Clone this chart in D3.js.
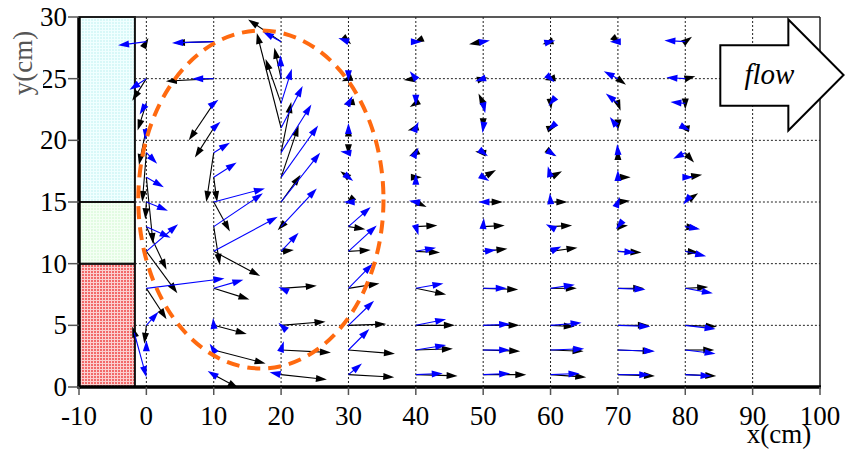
<!DOCTYPE html>
<html><head><meta charset="utf-8">
<script src="https://cdn.jsdelivr.net/npm/d3@7"></script>
<style>
body{margin:0;background:#fff}
svg{display:block}
text{font-family:"Liberation Serif","DejaVu Serif",serif}
</style>
</head><body>
<script>
// Measurement stations
const columns = [0, 10, 20, 30, 40, 50, 60, 70, 80];
const rows = [1, 3, 5, 8, 11, 13, 15, 17, 19, 21, 23, 25, 28];

// Vector displacement [dx, dy] in axis units, one list per column (rows bottom to top)
const blackVectors = [
  [[0,0],[0,0],[-0.3,-1.5],[3.0,-2.5],[4.6,-3.4],[3.0,-3.5],[-0.15,-1.4],[1.0,-5.4],[-0.6,-4.0],[-1.1,-3.0],[-1.3,-2.2],[-2.1,-1.8],[0.3,0.3]],
  [[3.7,-1.1],[7.7,-1.1],[4.9,-0.7],[5.3,-0.9],[6.9,-2.0],[0.9,-3.1],[2.4,-2.4],[0.5,-2.0],[-1.1,-4.0],[-2.8,-2.4],[-3.7,-3.0],[-7.1,-0.2],[-5.9,-0.1]],
  [[6.8,-0.4],[7.4,-0.2],[6.6,0.3],[5.3,0.2],[1.9,0.1],[-0.5,-0.3],[2.9,2.2],[2.6,4.2],[1.5,4.1],[-3.6,7.7],[-2.3,3.6],[-1.0,2.5],[-4.9,1.8]],
  [[6.8,-0.2],[6.9,-0.3],[5.6,0.1],[4.6,0.4],[3.3,0.1],[2.5,-0.2],[-0.4,-0.2],[-1.2,0.5],[0,-0.2],[0,0.2],[-0.7,-0.1],[-1.0,-0.2],[0.4,-0.2]],
  [[6.2,-0.1],[5.5,0.1],[5.8,0],[4.5,-0.5],[3.6,-0.1],[3.2,0.1],[1.6,-0.4],[0.9,0],[-1.0,-0.3],[-1.2,-0.2],[-0.9,-0.3],[-1.8,-0.1],[-0.4,-0.1]],
  [[6.4,0],[5.5,-0.1],[5.4,0],[5.2,-0.1],[3.6,0.2],[3.2,0.1],[2.9,0],[1.9,0.6],[-1.2,0.1],[0,-0.1],[-0.7,0.8],[0.7,0.1],[-2.1,-0.2]],
  [[5.3,-0.2],[4.9,-0.1],[3.6,-0.1],[3.9,0],[4.0,0.3],[3.2,0.1],[2.5,0],[1.7,0.5],[0.7,-0.3],[1.0,0.2],[0.1,-0.5],[-0.9,-0.1],[-1.2,-0.2]],
  [[5.5,-0.1],[5.3,-0.1],[4.6,0],[3.9,0],[3.5,-0.1],[1.5,0.1],[1.8,0.1],[1.9,0],[0,0.3],[0,-0.2],[0.4,-0.6],[1.2,-0.5],[0.4,-0.2]],
  [[4.6,-0.1],[4.3,0],[4.7,-0.1],[3.4,0.1],[2.0,-0.1],[1.8,-0.1],[1.9,0.7],[2.5,0.2],[1.3,-0.8],[-1.0,0.1],[0,-0.5],[1.5,0.2],[1.0,0.4]]
];
const blueVectors = [
  [[0,0],[0,0.8],[1.8,1.1],[11.6,0.8],[4.7,2.2],[3.6,-0.9],[3.2,-0.7],[2.6,-0.8],[1.6,-0.9],[-0.2,-1.0],[-1.0,-0.9],[-2.5,-0.9],[-4.2,-0.3]],
  [[-0.9,0.3],[-0.6,0.5],[-0.1,0.6],[4.4,0.7],[9.5,2.8],[7.3,2.7],[7.6,1.1],[3.4,1.2],[2.4,0.8],[1.0,0.5],[0.7,0.3],[-3.2,0],[-6.2,-0.1]],
  [[-1.7,0.2],[0.4,0.7],[-0.4,0.2],[-0.4,0.1],[2.6,1.5],[5.3,3.1],[5.8,4.0],[5.5,4.2],[4.5,3.9],[3.2,3.4],[1.6,2.8],[-0.1,1.9],[-2.7,0.8]],
  [[2.0,0.9],[3.1,1.7],[3.8,2.0],[3.6,2.0],[4.2,2.1],[3.3,1.6],[-0.7,0],[0.7,-0.3],[-1.2,0.1],[0,0.4],[0.6,0.6],[0,-0.2],[-1.5,0.3]],
  [[4.0,0.1],[4.5,0.4],[4.5,0.5],[4.1,0.4],[3.0,0.3],[0.4,-0.7],[-1.0,0.1],[0,0.3],[0.4,0.4],[0.4,0.5],[0,-0.2],[-0.9,0.6],[0.9,0]],
  [[4.0,0.1],[4.0,0],[4.0,0.1],[3.5,0],[1.9,0.1],[0.1,0.7],[-0.7,0],[0.9,-0.3],[0.7,-0.3],[-0.1,-0.4],[0.3,-0.8],[-1.2,-0.2],[1.0,0.1]],
  [[4.3,0.1],[5.0,0.1],[4.6,0.2],[3.6,0.3],[1.6,0.4],[-0.7,0.2],[-0.1,0.7],[-0.4,0.9],[0.9,-0.3],[-0.4,-0.2],[-0.3,-0.2],[0.6,-0.3],[0.7,0.1]],
  [[4.8,0],[5.5,-0.1],[4.8,-0.1],[4.1,-0.1],[2.6,-0.1],[-0.3,-0.2],[0.3,0.4],[0,0.6],[-0.1,0.7],[-1.2,0.9],[-1.8,0.8],[-2.1,0.6],[-1.2,0]],
  [[3.9,-0.1],[4.5,-0.3],[4.5,-0.3],[4.1,-0.4],[3.1,-0.4],[2.2,-0.2],[-0.3,-0.2],[1.2,0],[-1.8,-0.5],[0.7,-0.2],[-2.2,0.1],[-2.8,0.1],[-3.1,0.1]]
];

// Extra station on the wall face, [x, y], with its black and blue vectors
const wallStation = [-1.8, 4.4];
const wallBlack = [-0.3, 0.5];
const wallBlue = [1.8, -3.6];

const xTicks = d3.range(-10, 101, 10);
const yTicks = d3.range(0, 31, 5);
const xGrid = d3.range(0, 91, 10);
const yGrid = d3.range(5, 26, 5);

// Wall layers: [bottom, top] heights in cm, and the wall face position
const wallLayers = [[0, 10], [10, 15], [15, 30]];
const wallFace = -1.7;

// Recirculation zone outline: centre and radii in axis units
const eddyCentre = [17, 15.2];
const eddyRadii = [18.2, 13.7];

// Flow direction sign outline (axis units)
const flowSign = [[85.2,27.7],[95.3,27.7],[95.3,29.8],[103.5,25.3],[95.3,20.8],[95.3,22.8],[85.2,22.8]];

const W = 848, H = 454;
const x = d3.scaleLinear().domain([-10, 100]).range([79, 820]);
const y = d3.scaleLinear().domain([0, 30]).range([387, 17]);

const svg = d3.select("body").append("svg").attr("width", W).attr("height", H);
const defs = svg.append("defs");

function meshPattern(id, bg, ink, step) {
  const p = defs.append("pattern").attr("id", id).attr("patternUnits", "userSpaceOnUse")
    .attr("width", step).attr("height", step);
  p.append("rect").attr("width", step).attr("height", step).attr("fill", bg);
  p.append("rect").attr("width", step).attr("height", 1).attr("fill", ink);
  p.append("rect").attr("width", 1).attr("height", step).attr("fill", ink);
}
meshPattern("meshRed", "#f26a6a", "#fbd0d0", 3);
meshPattern("meshGreen", "#e2fbe2", "#f4fff4", 3);
meshPattern("meshCyan", "#d8f8f8", "#f0ffff", 3);
const layerFill = ["url(#meshRed)", "url(#meshGreen)", "url(#meshCyan)"];

// Wall layers
svg.append("g").selectAll("rect").data(wallLayers).join("rect")
  .attr("x", x(-10)).attr("width", x(wallFace) - x(-10))
  .attr("y", d => y(d[1])).attr("height", d => y(d[0]) - y(d[1]))
  .attr("fill", (d, i) => layerFill[i])
  .attr("stroke", "#111").attr("stroke-width", 2);

// Dotted grid
const grid = svg.append("g").attr("stroke", "#222").attr("stroke-width", 1).attr("stroke-dasharray", "2,2");
grid.selectAll(".gx").data(xGrid).join("line")
  .attr("x1", d => x(d)).attr("x2", d => x(d)).attr("y1", y(0)).attr("y2", y(30));
grid.selectAll(".gy").data(yGrid).join("line")
  .attr("x1", x(wallFace)).attr("x2", x(100)).attr("y1", d => y(d)).attr("y2", d => y(d));

// Arrow drawing: fixed-size head at the tip, shaft from the station
const headLen = 11, headHalf = 3.5;
function arrow(g, x0d, y0d, u, v, color) {
  const x0 = x(x0d), y0 = y(y0d), x1 = x(x0d + u), y1 = y(y0d + v);
  const dx = x1 - x0, dy = y1 - y0, len = Math.hypot(dx, dy);
  if (len < 1e-6) return;
  const ux = dx / len, uy = dy / len;
  if (len > headLen * 0.7) {
    g.append("line").attr("x1", x0).attr("y1", y0)
      .attr("x2", x1 - ux * headLen * 0.7).attr("y2", y1 - uy * headLen * 0.7)
      .attr("stroke", color).attr("stroke-width", 1.1);
  }
  const bx = x1 - ux * headLen, by = y1 - uy * headLen;
  g.append("polygon")
    .attr("points", [[x1, y1], [bx - uy * headHalf, by + ux * headHalf], [bx + uy * headHalf, by - ux * headHalf]].map(p => p.join(",")).join(" "))
    .attr("fill", color);
}
function drawField(vectors, extra, color) {
  const g = svg.append("g");
  columns.forEach((cx, i) => rows.forEach((ry, j) => arrow(g, cx, ry, vectors[i][j][0], vectors[i][j][1], color)));
  arrow(g, wallStation[0], wallStation[1], extra[0], extra[1], color);
}
drawField(blackVectors, wallBlack, "#000");
drawField(blueVectors, wallBlue, "#0000ff");

// Recirculation outline
svg.append("ellipse")
  .attr("cx", x(eddyCentre[0])).attr("cy", y(eddyCentre[1]))
  .attr("rx", x(eddyCentre[0] + eddyRadii[0]) - x(eddyCentre[0]))
  .attr("ry", y(eddyCentre[1]) - y(eddyCentre[1] + eddyRadii[1]))
  .attr("fill", "none").attr("stroke", "#ff6a10").attr("stroke-width", 4)
  .attr("stroke-dasharray", "13,8");

// Frame
svg.append("line").attr("x1", x(-10)).attr("x2", x(100)).attr("y1", y(30)).attr("y2", y(30)).attr("stroke", "#222").attr("stroke-width", 1.5);
svg.append("line").attr("x1", x(100)).attr("x2", x(100)).attr("y1", y(30)).attr("y2", y(0)).attr("stroke", "#222").attr("stroke-width", 1.5);
svg.append("line").attr("x1", x(-10)).attr("x2", x(-10)).attr("y1", y(30)).attr("y2", y(0) + 1.5).attr("stroke", "#000").attr("stroke-width", 3.5);
svg.append("line").attr("x1", x(-10) - 1.5).attr("x2", x(100) + 1).attr("y1", y(0)).attr("y2", y(0)).attr("stroke", "#000").attr("stroke-width", 3.5);

// Ticks and labels
const ticks = svg.append("g").attr("stroke", "#555").attr("stroke-width", 1.5);
ticks.selectAll(".tx").data(xTicks).join("line")
  .attr("x1", d => x(d)).attr("x2", d => x(d)).attr("y1", y(0)).attr("y2", y(0) + 8);
ticks.selectAll(".ty").data(yTicks).join("line")
  .attr("x1", x(-10) - 11).attr("x2", x(-10)).attr("y1", d => y(d)).attr("y2", d => y(d));

svg.append("g").selectAll("text").data(xTicks).join("text")
  .attr("x", d => x(d)).attr("y", 425).attr("text-anchor", "middle")
  .attr("font-size", 27).text(d => d);
svg.append("g").selectAll("text").data(yTicks).join("text")
  .attr("x", x(-10) - 12).attr("y", d => y(d) + 9).attr("text-anchor", "end")
  .attr("font-size", 27).text(d => d);

// Axis titles
svg.append("rect").attr("x", 12).attr("y", 28).attr("width", 31).attr("height", 72).attr("fill", "#fff");
svg.append("text").attr("transform", "translate(32,63) rotate(-90)").attr("text-anchor", "middle")
  .attr("font-size", 27).attr("fill", "#555").text("y(cm)");
svg.append("text").attr("x", 779).attr("y", 443).attr("text-anchor", "middle")
  .attr("font-size", 27).attr("fill", "#000").text("x(cm)");

// Flow direction sign
svg.append("polygon").attr("points", flowSign.map(p => [x(p[0]), y(p[1])].join(",")).join(" "))
  .attr("fill", "#fff").attr("stroke", "#000").attr("stroke-width", 2);
svg.append("text").attr("x", x(92.5)).attr("y", y(24.6)).attr("text-anchor", "middle")
  .attr("font-style", "italic").attr("font-size", 29).text("flow");
</script>
</body></html>
